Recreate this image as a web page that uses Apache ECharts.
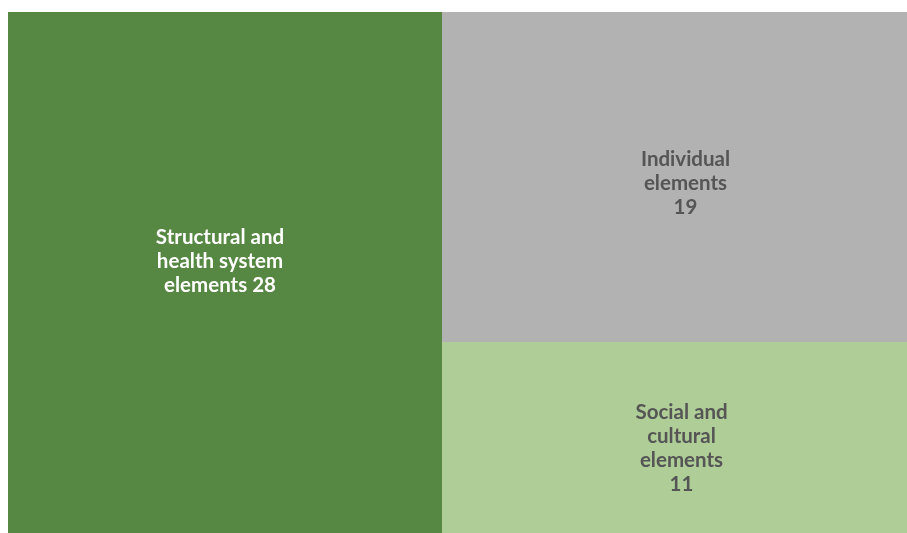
<!DOCTYPE html>
<html>
<head>
<meta charset="utf-8">
<script src="https://cdn.jsdelivr.net/npm/echarts@6/dist/echarts.min.js"></script>
<style>html,body{margin:0;padding:0;background:#fff;}#c{width:907px;height:533px;}</style>
</head>
<body>
<div id="c"></div>
<script>
const names = ["Structural and health system elements", "Individual elements", "Social and cultural elements"];
const labelLines = [["Structural and", "health system", "elements 28"], ["Individual", "elements", "19"], ["Social and", "cultural", "elements", "11"]];
const values = [28, 19, 11];
const colors = ["#578843", "#b2b2b2", "#afcd97"];
const textColors = ["#ffffff", "#555555", "#555555"];
const labelOffsets = [[-5, -11], [11, 6], [7, 11]];

const chart = echarts.init(document.getElementById('c'));
chart.setOption({
  animation: false,
  series: [{
    type: 'treemap',
    left: 8, top: 12, right: 0, bottom: 0,
    squareRatio: 1,
    roam: false,
    nodeClick: false,
    breadcrumb: { show: false },
    sort: false,
    levels: [
      { itemStyle: { borderWidth: 0, gapWidth: 0 } },
      { itemStyle: { borderWidth: 0, gapWidth: 0 } }
    ],
    label: {
      show: true,
      position: 'inside',
      align: 'center',
      verticalAlign: 'middle',
      fontFamily: 'Lato',
      fontWeight: 'bold',
      fontSize: 20.5,
      lineHeight: 24
    },
    data: names.map((n, i) => ({
      name: n,
      value: values[i],
      itemStyle: { color: colors[i], borderWidth: 0, gapWidth: 0 },
      label: { color: textColors[i], offset: labelOffsets[i], formatter: labelLines[i].join('\n') }
    }))
  }]
});
</script>
</body>
</html>
